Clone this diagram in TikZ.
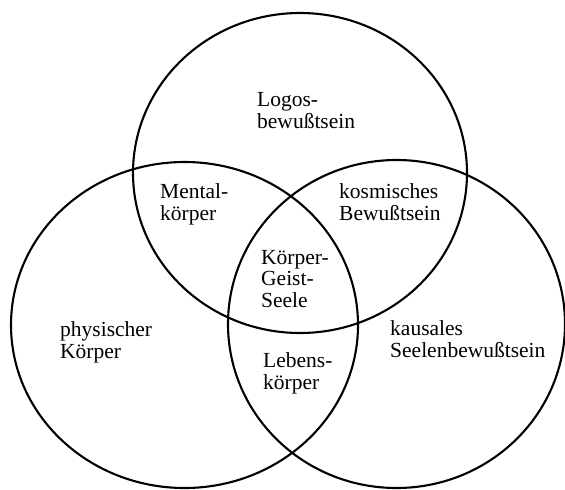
\documentclass[tikz,border=0pt]{standalone}
\usepackage{fontspec}
\setmainfont{Liberation Serif}
\begin{document}
\begin{tikzpicture}[x=1pt,y=-1pt,
  ring/.style={line width=2.1pt,black},
  lbl/.style={align=left,anchor=base west,inner sep=0pt,font=\fontsize{21.5}{21.5}\selectfont}]
\useasboundingbox (0,0) rectangle (565,490);
\draw[ring] (300,173) ellipse [x radius=167pt, y radius=160pt];
\draw[ring] (184.5,325) ellipse [x radius=173.5pt, y radius=163pt];
\draw[ring] (396.5,324) ellipse [x radius=168.5pt, y radius=164pt];
\node[lbl] (logos) at (257,128) {Logos-\\bewußtsein};
\node[lbl] (mental) at (160,220) {Mental-\\körper};
\node[lbl] (kosm) at (339,220) {kosmisches\\Bewußtsein};
\node[lbl] (kgs) at (261,307) {Körper-\\Geist-\\Seele};
\node[lbl] (phys) at (60,358) {physischer\\Körper};
\node[lbl] (leb) at (263,389) {Lebens-\\körper};
\node[lbl] (kaus) at (390,357) {kausales\\Seelenbewußtsein};
\end{tikzpicture}
\end{document}
